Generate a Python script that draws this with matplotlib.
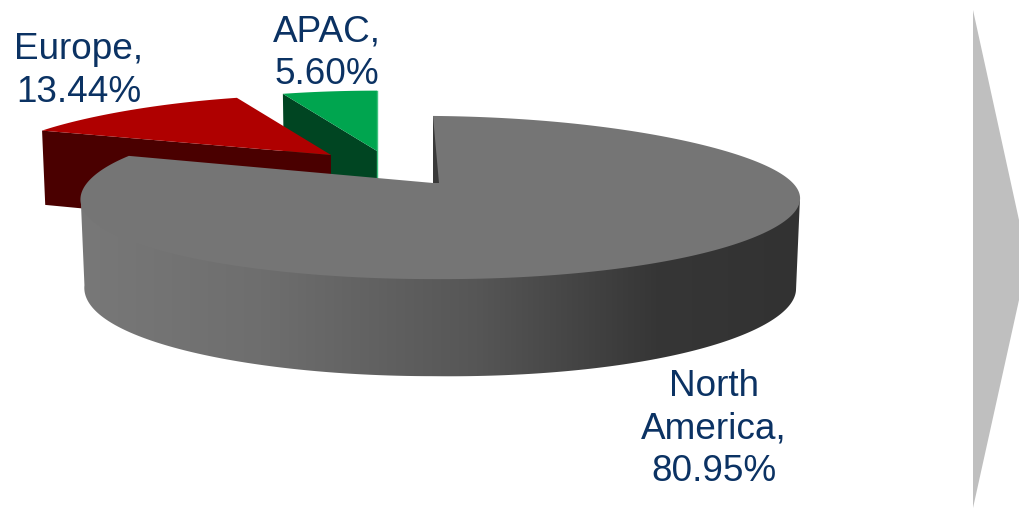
import numpy as np
import matplotlib
matplotlib.use("Agg")
import matplotlib.pyplot as plt
from matplotlib.colors import LinearSegmentedColormap
from matplotlib.patches import Polygon

# values, clockwise from 12 o'clock
regions = ["North\nAmerica", "Europe", "APAC"]
shares = [80.95, 13.44, 5.60]

top_colors = ["#757575", "#af0000", "#00a54f"]
face_colors = ["#393939", "#4a0000", "#004522"]

# apex of every exploded slice on the canvas, and its size against the big one
apex = [(433, 183), (331, 155), (377, 151)]
slice_scale = [1.0, 0.9, 0.9]
slice_depth = [86.5, 77, 77]
slice_skew = [8, -18, -18]
label_pos = [(714, 429), (79, 71), (327, 53)]

RX, RY, PERSP = 354, 79, 0.178
TEXT_COLOR = "#0b3263"

plt.rcParams["font.family"] = ["Liberation Sans", "DejaVu Sans"]

fig = plt.figure(figsize=(1019 / 100, 508 / 100), dpi=100)
ax = fig.add_axes([0, 0, 1, 1])
ax.set_xlim(0, 1019)
ax.set_ylim(508, 0)
ax.axis("off")


def project(deg, i, bottom=False):
    # fake perspective: the back of the disc is flatter than the front
    t = np.radians(deg)
    u, v = np.sin(t), np.cos(t)
    d = 1 + PERSP * v
    s = slice_scale[i]
    x = (RX * u / d + slice_skew[i] * (1 - v * v) ** 3) * s
    y = -RY * v / d * s
    tilt = max(u, 0) if i == 0 else 0
    if bottom:
        return apex[i][0] + x * 0.989, apex[i][1] + slice_depth[i] + y * 1.11 + 5 * tilt
    return apex[i][0] + x, apex[i][1] + y + 2.5 * tilt


edges = np.cumsum([0] + shares) / sum(shares) * 360
starts, ends = edges[:-1], edges[1:]

# Gray arrow on the right, its tip runs off the canvas
ax.add_patch(Polygon([(973, 10), (1019, 220), (1019, 300), (973, 508)], closed=True,
                     facecolor="#bfbfbf", edgecolor="none", zorder=1))

# Small slices first, the big one sits in front of them
for i in [2, 1]:
    deg = np.linspace(starts[i], ends[i], 60)
    rim = np.array([project(a, i) for a in deg])
    start_top = np.array(project(starts[i], i))
    start_bot = np.array(project(starts[i], i, bottom=True))
    ax.add_patch(Polygon([start_top, apex[i], (apex[i][0], apex[i][1] + slice_depth[i]), start_bot],
                         closed=True, facecolor=face_colors[i], edgecolor="none", zorder=2 + (2 - i)))
    ax.add_patch(Polygon(np.vstack([[apex[i]], rim]), closed=True,
                         facecolor=top_colors[i], edgecolor="none", zorder=2 + (2 - i)))

ax.plot([377, 377], [91, 178], color="#3fc27f", lw=1, zorder=2)

# Outer wall of North America with the left-to-right shading
# the upper edge goes 3px under the top surface so no seam shows
front = np.linspace(100, 260, 300)
wall = [(project(a, 0)[0], project(a, 0)[1] - 3) for a in front]
wall += [project(a, 0, bottom=True) for a in front[::-1]]
wall_patch = Polygon(wall, closed=True, facecolor="none", edgecolor="none", transform=ax.transData)
ax.add_patch(wall_patch)
shade = LinearSegmentedColormap.from_list(
    "wall", [(0, "#787878"), (0.25, "#6e6e6e"), (0.55, "#565656"), (0.8, "#363636"), (1, "#323232")])
img = ax.imshow(np.linspace(0, 1, 256).reshape(1, -1), cmap=shade, extent=(81, 801, 400, 100),
                aspect="auto", zorder=5)
img.set_clip_path(wall_patch)
ax.set_xlim(0, 1019)
ax.set_ylim(508, 0)

# Top of North America
deg = np.linspace(starts[0], ends[0], 400)
rim = np.array([project(a, 0) for a in deg])
ax.add_patch(Polygon(np.vstack([[apex[0]], rim]), closed=True, facecolor=top_colors[0],
                     edgecolor="none", zorder=6))
ax.add_patch(Polygon([project(0, 0), apex[0], (apex[0][0] + 6, apex[0][1])], closed=True,
                     facecolor=face_colors[0], edgecolor="none", zorder=7))

for name, val, pos in zip(regions, shares, label_pos):
    ax.text(pos[0], pos[1], f"{name},\n{val:.2f}%", color=TEXT_COLOR, fontsize=26.6,
            ha="center", va="center", multialignment="center", linespacing=1.27, zorder=8)

fig.savefig("out.png", dpi=100, facecolor="white")
plt.close(fig)
